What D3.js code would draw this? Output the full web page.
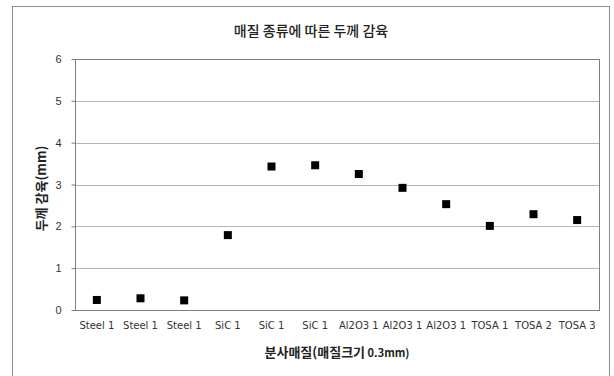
<!DOCTYPE html>
<html><head><meta charset="utf-8">
<script src="https://cdn.jsdelivr.net/npm/d3@7/dist/d3.min.js"></script>
<style>body{margin:0;background:#fff}svg{display:block}</style>
</head><body>
<svg id="c" width="614" height="376"></svg>
<script>
const categories = ["Steel 1","Steel 1","Steel 1","SiC 1","SiC 1","SiC 1","Al2O3 1","Al2O3 1","Al2O3 1","TOSA 1","TOSA 2","TOSA 3"];
const values = [0.24,0.28,0.23,1.79,3.43,3.46,3.25,2.92,2.53,2.01,2.29,2.15];
const yTicks = [0,1,2,3,4,5,6];
const title = "매질 종류에 따른 두께 감육";
const yTitle = "두께 감육(mm)";
const xTitleMain = "분사매질(매질크기";
const xTitleSmall = " 0.3mm)";

const svg = d3.select("#c");
const m={l:75,r:599,t:59,b:310};
svg.append("rect").attr("x",12.5).attr("y",6.5).attr("width",597).attr("height",380).attr("fill","#fff").attr("stroke","#8c8c8c");

const x = d3.scaleBand().domain(d3.range(categories.length)).range([m.l,m.r]);
const y = d3.scaleLinear().domain([0,6]).range([m.b,m.t]);

svg.append("g").selectAll("line").data(yTicks.filter(d=>d>0 && d<6)).join("line")
  .attr("x1",m.l).attr("x2",m.r).attr("y1",d=>Math.round(y(d))+0.5).attr("y2",d=>Math.round(y(d))+0.5)
  .attr("stroke","#b5b5b5").attr("stroke-width",1);

svg.append("rect").attr("x",m.l+0.5).attr("y",Math.round(m.t)+0.5).attr("width",m.r-m.l).attr("height",m.b-m.t)
  .attr("fill","none").attr("stroke","#7f7f7f");

const ya = svg.append("g").attr("transform",`translate(${m.l+0.5},0)`)
  .call(d3.axisLeft(y).tickValues(yTicks).tickSize(4).tickPadding(10).tickFormat(d3.format("d")));
ya.select(".domain").remove();
ya.selectAll(".tick line").attr("stroke","#7f7f7f");
ya.selectAll(".tick text").attr("font-family","Liberation Sans, Arial, sans-serif").attr("font-size",11).attr("fill","#333");

const xa = svg.append("g").attr("transform",`translate(0,${m.b})`)
  .call(d3.axisBottom(x).tickSize(0).tickPadding(12).tickFormat(i=>categories[i]));
xa.select(".domain").remove();
xa.selectAll(".tick text").attr("font-family","DejaVu Sans, sans-serif").attr("font-size",10).attr("fill","#333");

svg.append("g").selectAll("rect").data(values).join("rect")
  .attr("x",(d,i)=>x(i)+x.bandwidth()/2-4).attr("y",d=>y(d)-4)
  .attr("width",8).attr("height",8).attr("fill","#000");

svg.append("text").attr("x",311).attr("y",36).attr("text-anchor","middle")
  .attr("font-family","Noto Sans CJK KR, sans-serif").attr("font-weight",500).attr("font-size",14).attr("fill","#222").text(title);
svg.append("text").attr("transform",`translate(46,${(m.t+m.b)/2+4}) rotate(-90)`).attr("text-anchor","middle")
  .attr("font-family","Noto Sans CJK KR, sans-serif").attr("font-weight","bold").attr("font-size",13).attr("fill","#222").text(yTitle);
const xt = svg.append("text").attr("x",(m.l+m.r)/2).attr("y",357).attr("text-anchor","middle")
  .attr("font-family","Noto Sans CJK KR, sans-serif").attr("font-weight","bold").attr("fill","#222");
xt.append("tspan").attr("font-size",13).text(xTitleMain);
xt.append("tspan").attr("font-size",11).text(xTitleSmall);
</script>
</body></html>
